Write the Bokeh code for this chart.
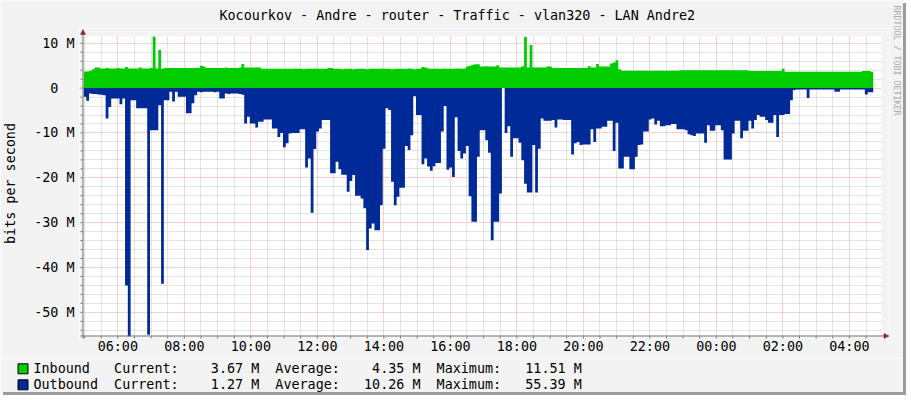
import numpy as np
from bokeh.plotting import figure
from bokeh.layouts import column
from bokeh.models import Range1d, FixedTicker, Title
from bokeh.core.properties import value
from bokeh.embed import file_html
from bokeh.resources import INLINE

# ---------------- data ----------------
TITLE = "Kocourkov - Andre - router - Traffic - vlan320 - LAN Andre2"
Y_LABEL = "bits per second"
WATERMARK = "RRDTOOL / TOBI OETIKER"

START_HOUR = 4 + 58 / 60.0      # 04:58
STEP_MIN = 5                    # one sample every 5 minutes
SPAN_HOURS = 24

# Inbound traffic, Mbit/s
INBOUND = [
    3.7, 3.7, 3.9, 4.2, 4.6, 4.6, 4.4, 4.4, 4.5, 4.4, 4.4, 4.4, 4.5, 4.4, 4.4, 4.7,
    4.4, 4.4, 4.4, 4.4, 4.6, 4.4, 4.4, 4.4, 4.5, 11.51, 4.4, 8.5, 4.3, 4.5, 4.5, 4.5,
    4.5, 4.5, 4.5, 4.5, 4.5, 4.5, 4.5, 4.5, 4.5, 4.5, 5.0, 4.8, 4.5, 4.5, 4.5, 4.5,
    4.5, 4.5, 4.5, 4.6, 4.5, 4.5, 4.5, 4.5, 4.6, 5.4, 4.6, 4.6, 4.6, 4.6, 4.6, 4.6,
    4.3, 4.3, 4.3, 4.3, 4.3, 4.3, 4.3, 4.3, 4.3, 4.3, 4.3, 4.3, 4.4, 4.3, 4.3, 4.2,
    4.3, 4.3, 4.3, 4.4, 4.3, 4.3, 4.3, 4.3, 4.5, 4.5, 4.3, 4.3, 4.3, 4.2, 4.3, 4.3,
    4.3, 4.2, 4.3, 4.3, 4.3, 4.3, 4.2, 4.3, 4.3, 4.3, 4.3, 4.4, 4.3, 4.3, 4.3, 4.2,
    4.3, 4.3, 4.3, 4.3, 4.3, 4.4, 4.3, 4.2, 4.3, 4.3, 4.7, 4.6, 4.4, 4.3, 4.3, 4.4,
    4.3, 4.3, 4.4, 4.3, 4.3, 4.3, 4.4, 4.4, 4.3, 4.4, 4.8, 5.0, 5.2, 5.3, 5.3, 4.8,
    4.8, 4.9, 4.8, 4.8, 4.8, 5.1, 4.6, 4.6, 4.6, 4.6, 4.6, 4.6, 4.6, 4.6, 4.9, 11.45,
    4.6, 9.6, 4.6, 4.6, 4.6, 4.6, 4.6, 4.8, 4.8, 4.5, 4.5, 4.5, 4.5, 4.5, 4.5, 4.5,
    4.5, 4.5, 4.5, 4.5, 4.5, 4.5, 4.9, 4.6, 4.6, 5.4, 4.8, 4.8, 4.8, 4.8, 5.5, 5.7,
    6.2, 4.2, 3.9, 3.9, 3.9, 3.9, 3.9, 3.9, 3.9, 3.9, 3.9, 3.9, 3.9, 3.9, 3.9, 3.9,
    3.9, 3.9, 3.9, 3.9, 3.9, 3.9, 3.9, 4.0, 4.0, 4.0, 4.0, 4.0, 4.0, 4.0, 4.0, 4.0,
    4.0, 4.0, 4.0, 4.0, 4.0, 4.0, 4.0, 4.0, 4.0, 4.0, 4.0, 4.0, 4.0, 4.0, 4.0, 4.0,
    3.8, 3.8, 3.8, 3.8, 3.8, 3.8, 3.8, 3.8, 3.8, 3.8, 3.8, 3.8, 4.3, 3.65, 3.65, 3.65,
    3.65, 3.65, 3.65, 3.65, 3.65, 3.65, 3.65, 3.65, 3.65, 3.65, 3.65, 3.65, 3.65, 3.65,
    3.65, 3.65, 3.65, 3.65, 3.65, 3.65, 3.65, 3.65, 3.65, 3.65, 3.65, 3.8, 3.8, 3.8, 3.67,
]

# Outbound traffic, Mbit/s (drawn below zero)
OUTBOUND = [
    1.9, 2.8, 1.2, 1.3, 1.3, 1.4, 1.5, 1.6, 6.8, 4.2, 2.3, 2.3, 2.3, 3.6, 2.3, 44.0,
    55.39, 2.7, 2.7, 4.5, 4.5, 4.5, 4.5, 55.0, 9.4, 9.4, 9.4, 3.8, 43.6, 2.7, 2.7, 0.8,
    3.0, 0.8, 1.9, 1.9, 1.9, 5.6, 5.6, 3.4, 1.6, 0.8, 0.9, 0.8, 0.8, 0.8, 0.8, 0.9,
    0.8, 2.3, 2.3, 1.2, 1.3, 1.2, 1.2, 1.2, 1.3, 1.5, 7.9, 6.4, 7.9, 7.9, 8.8, 7.5,
    7.5, 7.0, 7.0, 7.0, 9.0, 9.0, 10.9, 10.0, 13.2, 12.3, 10.1, 10.0, 10.0, 10.0, 9.2, 9.2,
    17.7, 15.7, 27.8, 13.6, 9.7, 9.0, 7.1, 7.1, 7.1, 19.0, 19.0, 16.4, 18.1, 19.3, 19.3, 23.1,
    20.7, 19.4, 24.0, 24.0, 24.6, 26.8, 36.1, 31.3, 30.2, 31.7, 31.7, 26.1, 13.5, 4.5, 4.9, 20.9,
    26.1, 24.2, 22.2, 22.2, 12.9, 13.8, 10.5, 1.8, 6.0, 6.0, 17.0, 15.7, 17.5, 18.4, 17.4, 16.7,
    16.7, 9.7, 4.0, 18.2, 17.7, 19.8, 6.5, 14.0, 15.7, 14.6, 12.9, 24.1, 29.8, 29.8, 15.3, 9.4,
    9.4, 11.6, 14.4, 33.9, 29.8, 29.8, 23.5, 0.0, 10.0, 8.5, 15.3, 11.2, 11.2, 12.2, 16.1, 21.3,
    23.3, 23.3, 12.7, 23.3, 13.5, 6.8, 7.3, 7.3, 7.3, 7.1, 8.8, 7.0, 7.0, 7.1, 7.1, 7.1,
    14.8, 12.3, 12.0, 12.7, 12.6, 12.6, 12.6, 9.2, 12.0, 9.0, 9.0, 8.6, 8.6, 7.3, 7.3, 14.0,
    7.7, 17.9, 17.9, 15.3, 15.3, 18.1, 18.1, 15.3, 12.7, 12.6, 9.7, 9.7, 7.0, 6.8, 8.1, 7.3,
    8.5, 8.5, 8.3, 8.3, 8.0, 8.0, 9.2, 9.2, 9.2, 9.4, 10.3, 10.5, 10.7, 10.1, 10.1, 10.1,
    12.2, 8.3, 9.5, 9.5, 8.3, 8.3, 9.4, 15.9, 15.9, 15.9, 10.1, 7.3, 7.3, 11.2, 9.5, 9.5,
    7.3, 9.0, 7.1, 6.0, 6.4, 6.4, 7.1, 7.7, 7.7, 6.0, 10.9, 6.0, 6.0, 5.8, 5.8, 2.7,
    0.4, 0.3, 0.3, 0.3, 0.3, 2.2, 0.3, 0.3, 0.3, 0.3, 0.3, 0.3, 0.3, 0.3, 0.3, 0.8,
    0.8, 0.3, 0.3, 0.3, 0.3, 0.3, 0.3, 0.3, 0.3, 0.3, 1.4, 0.9, 0.9, 1.2, 1.27, 1.27,
]

Y_MIN, Y_MAX = -55.39, 11.51
Y_TICKS = [10, 0, -10, -20, -30, -40, -50]
Y_TICK_LABELS = ["10 M", "0\u00a0\u00a0", "-10 M", "-20 M", "-30 M", "-40 M", "-50 M"]
X_TICKS = [6, 8, 10, 12, 14, 16, 18, 20, 22, 24, 26, 28]
X_TICK_LABELS = ["06:00", "08:00", "10:00", "12:00", "14:00", "16:00",
                 "18:00", "20:00", "22:00", "00:00", "02:00", "04:00"]

LEGEND_NAMES = ["Inbound", "Outbound"]
LEGEND_COLORS = ["#00CC00", "#002A97"]
LEGEND_CURRENT = ["3.67 M", "1.27 M"]
LEGEND_AVERAGE = ["4.35 M", "10.26 M"]
LEGEND_MAXIMUM = ["11.51 M", "55.39 M"]

# ---------------- layout (page pixels) ----------------
FONT = "DejaVu Sans Mono"
FS = "13.4px"
NB = "\u00a0"
BACK = "#f3f3f3"
AXIS = "#707070"
ARROW = "#8E2424"
W, H = 903, 392
H1 = 357                                   # chart part, legend strip below
PL, PR, PT, PB = 81, 881, 36, 336          # graph area
FL, FR, FT, FB = 77, 889, 28, 338          # bokeh frame (a little larger, for axis + arrows)
X0, X1 = START_HOUR, START_HOUR + SPAN_HOURS


def px_x(px):
    return X0 + (px - PL) / (PR - PL) * (X1 - X0)


def px_y(py):
    return Y_MAX - (py - PT) / (PB - PT) * (Y_MAX - Y_MIN)


p = figure(width=W, height=H1,
           x_range=Range1d(px_x(FL), px_x(FR)), y_range=Range1d(px_y(FB), px_y(FT)),
           output_backend="svg", toolbar_location=None,
           min_border_left=FL, min_border_right=W - FR,
           min_border_top=FT, min_border_bottom=H1 - FB)
p.frame_align = False
p.background_fill_color = "white"
p.border_fill_color = BACK
p.outline_line_color = None

# title
p.title.text = TITLE
p.title.align = "left"
p.title.offset = 140
p.title.vertical_align = "top"
p.title.standoff = 8
p.title.text_font = FONT
p.title.text_font_size = FS
p.title.text_font_style = "normal"
p.title.text_color = "#000000"

# axes: tick labels and axis label from Bokeh, axis lines drawn inside the frame
minor_x = [h / 2 for h in range(int(np.ceil(X0 * 2)), int(np.floor(X1 * 2)) + 1) if (h / 2) % 2 != 0]
minor_y = [v for v in range(-54, 12, 2) if v % 10 != 0]
p.xaxis.ticker = FixedTicker(ticks=X_TICKS, minor_ticks=minor_x)
p.yaxis.ticker = FixedTicker(ticks=Y_TICKS, minor_ticks=minor_y)
p.xaxis.major_label_overrides = dict(zip(X_TICKS, X_TICK_LABELS))
p.yaxis.major_label_overrides = dict(zip(Y_TICKS, Y_TICK_LABELS))
for ax in (p.xaxis[0], p.yaxis[0]):
    ax.axis_line_color = None
    ax.major_tick_line_color = None
    ax.minor_tick_line_color = None
    ax.major_tick_in = 0
    ax.minor_tick_in = 0
    ax.major_tick_out = 0
    ax.minor_tick_out = 0
    ax.major_label_text_font = FONT
    ax.major_label_text_font_size = FS
    ax.major_label_text_color = "#000000"
p.xaxis.major_label_standoff = 0
p.yaxis.major_label_standoff = 5
p.yaxis.axis_label = Y_LABEL
p.yaxis.axis_label_text_font = FONT
p.yaxis.axis_label_text_font_size = FS
p.yaxis.axis_label_text_font_style = "normal"
p.yaxis.axis_label_text_color = "#000000"
p.yaxis.axis_label_standoff = 13

for g in (p.xgrid[0], p.ygrid[0]):
    g.grid_line_color = "#f0a0a0"
    g.grid_line_dash = "1 1"
    g.minor_grid_line_color = "#c8c8c8"
    g.minor_grid_line_dash = "1 1"

# areas (step shaped, one step per sample)
n = len(INBOUND)
edges = X0 + np.arange(n + 1) * STEP_MIN / 60.0
xs = np.repeat(edges, 2)[1:-1]
y_in = np.repeat(np.array(INBOUND), 2)
y_out = -np.repeat(np.array(OUTBOUND), 2)
zeros = np.zeros_like(xs)
p.varea(x=xs, y1=zeros, y2=y_in, fill_color="#00CC00")
p.varea(x=xs, y1=zeros, y2=y_out, fill_color="#002A97")

# cover the frame margins (outside the graph area) with the page colour
cov_l = [FL, FL, PR, FL]
cov_r = [PL, FR, FR, FR]
cov_t = [FT, FT, FT, PB]
cov_b = [FB, PT, FB, FB]
p.quad(left=[px_x(v) for v in cov_l], right=[px_x(v) for v in cov_r],
       top=[px_y(v) for v in cov_t], bottom=[px_y(v) for v in cov_b],
       fill_color=BACK, line_color=None)

# ticks
yt = Y_TICKS + minor_y
p.segment(x0=[px_x(78)] * len(yt), x1=[px_x(80)] * len(yt), y0=yt, y1=yt,
          line_color=AXIS, line_width=1, level="overlay")
xt = X_TICKS + minor_x
p.segment(x0=xt, x1=xt, y0=[px_y(336)] * len(xt), y1=[px_y(338)] * len(xt),
          line_color=AXIS, line_width=1, level="overlay")

# axis lines
p.quad(left=[px_x(80), px_x(78)], right=[px_x(81), px_x(883.5)],
       top=[px_y(33.5), px_y(335)], bottom=[px_y(338), px_y(336)],
       fill_color=AXIS, line_color=None, level="overlay")
# arrows
p.patches(xs=[[px_x(78), px_x(83), px_x(80.5)], [px_x(883.5), px_x(883.5), px_x(888.5)]],
          ys=[[px_y(34), px_y(34), px_y(29)], [px_y(333), px_y(338), px_y(335.5)]],
          fill_color=ARROW, line_color=ARROW, line_width=0.5, level="overlay")

# watermark on the right
p.add_layout(Title(text=WATERMARK, align="left", offset=-23, vertical_align="top", standoff=1,
                   text_font=FONT, text_font_size="8.3px", text_font_style="normal",
                   text_color="#aaaaaa"), "right")

# ---------------- legend strip (page pixel coordinates) ----------------
leg = figure(width=W, height=H - H1, x_range=Range1d(0, W), y_range=Range1d(H, H1),
             output_backend="svg", toolbar_location=None,
             x_axis_type=None, y_axis_type=None,
             min_border_left=0, min_border_right=0, min_border_top=0, min_border_bottom=0)
leg.frame_align = False
leg.grid.visible = False
leg.background_fill_color = BACK
leg.border_fill_color = BACK
leg.outline_line_color = None

rows_y = [368.3, 384.3]
rows = []
for k in range(len(LEGEND_NAMES)):
    rows.append(LEGEND_NAMES[k].ljust(10, NB) + "Current:" + LEGEND_CURRENT[k].rjust(10, NB)
                + NB * 2 + "Average:" + LEGEND_AVERAGE[k].rjust(10, NB)
                + NB * 2 + "Maximum:" + LEGEND_MAXIMUM[k].rjust(10, NB))
leg.quad(left=[17.5] * 2, right=[27.5] * 2,
         top=[y - 5 for y in rows_y], bottom=[y + 5 for y in rows_y],
         fill_color=LEGEND_COLORS, line_color="#000000", line_width=1)
leg.text(x=[33] * 2, y=rows_y, text=rows, text_font=value(FONT), text_font_size=value(FS),
         text_color="#000000", text_align="left", text_baseline="middle")

layout = column(p, leg, spacing=0)
layout.styles = {"box-shadow": "3px 3px 0px #9b9b9b"}

open("out.html", "w").write(file_html(layout, INLINE))
